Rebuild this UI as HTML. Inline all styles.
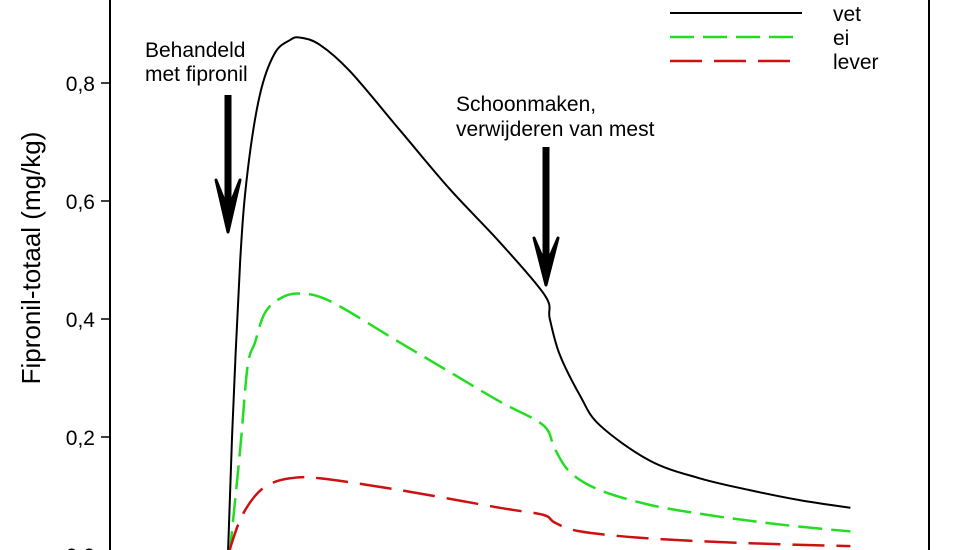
<!DOCTYPE html>
<html><head><meta charset="utf-8"><style>
html,body{margin:0;padding:0;background:#fff;overflow:hidden;}
svg{display:block;font-family:"Liberation Sans",Arial,sans-serif;}
</style></head><body>
<svg id="chart" width="978" height="550" viewBox="0 0 978 550">
<g id="axes"></g><g id="series"></g>
<g>
<text x="145" y="57" font-size="21">Behandeld</text>
<text x="145" y="81" font-size="21">met fipronil</text>
<line x1="228" y1="95" x2="228" y2="218" stroke="#000" stroke-width="7"/>
<path d="M216 180 L228 232 L240 180 L228 210 Z" fill="#000" stroke="#000" stroke-width="3" stroke-linejoin="round"/>
</g>
<g>
<text x="456" y="111" font-size="21">Schoonmaken,</text>
<text x="456" y="136" font-size="21">verwijderen van mest</text>
<line x1="546" y1="147" x2="546" y2="270" stroke="#000" stroke-width="7"/>
<path d="M534 238 L546 285 L558 238 L546 266 Z" fill="#000" stroke="#000" stroke-width="3" stroke-linejoin="round"/>
</g>
<g>
<line x1="670" y1="13" x2="802" y2="13" stroke="#000" stroke-width="2"/>
<text x="833" y="21" font-size="21">vet</text>
<line x1="670" y1="37" x2="802" y2="37" stroke="#22dd22" stroke-width="2.5" stroke-dasharray="24 9"/>
<text x="833" y="45" font-size="21">ei</text>
<line x1="670" y1="61" x2="802" y2="61" stroke="#cc1111" stroke-width="2.5" stroke-dasharray="32 12"/>
<text x="833" y="69" font-size="21">lever</text>
</g>
</svg>
<script>
const yTicks=[0,0.2,0.4,0.6,0.8];
const yTickLabels=["0,0","0,2","0,4","0,6","0,8"];
const vetX=[14.4,14.9,15.9,16.8,18.3,20.1,22.0,23.2,25.6,29.3,35.4,41.5,47.6,53.1,53.7,54.9,57.4,59.8,65.9,72.0,78.1,84.2,90.4];
const vetY=[0,0.2,0.5,0.65,0.78,0.85,0.873,0.877,0.865,0.82,0.72,0.62,0.53,0.44,0.40,0.34,0.27,0.22,0.16,0.13,0.11,0.093,0.08];
const eiX=[14.6,15.9,16.8,17.7,18.9,20.8,23.2,26.9,35.4,41.5,47.6,52.9,54.3,56.2,59.8,65.9,72.0,78.1,84.2,90.4];
const eiY=[0,0.18,0.32,0.36,0.41,0.435,0.443,0.43,0.36,0.31,0.26,0.22,0.18,0.14,0.11,0.085,0.07,0.058,0.048,0.04];
const leverX=[14.4,15.9,17.7,19.5,22.0,25.6,35.4,47.6,52.9,54.3,57.4,65.9,78.1,90.4];
const leverY=[0,0.06,0.1,0.12,0.13,0.13,0.11,0.08,0.068,0.055,0.04,0.028,0.02,0.015];
const X0=110,X1=929,Y0=555;
function xs(d){return X0+d*(X1-X0)/100;}
function ys(v){return Y0-v*590;}
const NS="http://www.w3.org/2000/svg";
const axes=document.getElementById('axes'),ser=document.getElementById('series');
function mk(tag,attrs,parent){const e=document.createElementNS(NS,tag);for(const k in attrs)e.setAttribute(k,attrs[k]);parent.appendChild(e);return e;}
const ya=mk('line',{x1:X0,y1:0,x2:X0,y2:550,stroke:'#000','stroke-width':2},axes);


const rb=mk('line',{x1:X1,y1:0,x2:X1,y2:550,stroke:'#000','stroke-width':2},axes);


yTicks.forEach((t,i)=>{
 const tk=mk('line',{x1:X0-9,y1:ys(t),x2:X0,y2:ys(t),stroke:'#000','stroke-width':1.5},axes);
 
 
 const tl=mk('text',{x:X0-15,y:ys(t)+8,'font-size':21,'text-anchor':'end'},axes);
 tl.textContent=yTickLabels[i];
 
 
});
const yt=mk('text',{x:0,y:0,'font-size':26,'text-anchor':'middle',transform:'translate(40,258) rotate(-90)'},axes);
yt.textContent='Fipronil-totaal (mg/kg)';


function path(X,Y){
 const p=X.map((x,i)=>[xs(x),ys(Y[i])]);
 let d='M'+p[0][0]+' '+p[0][1];
 for(let i=0;i<p.length-1;i++){
  const a=p[Math.max(0,i-1)],b=p[i],c=p[i+1],e=p[Math.min(p.length-1,i+2)];
  const c1=[b[0]+(c[0]-a[0])/6,b[1]+(c[1]-a[1])/6],c2=[c[0]-(e[0]-b[0])/6,c[1]-(e[1]-b[1])/6];
  d+=' C'+c1[0]+' '+c1[1]+' '+c2[0]+' '+c2[1]+' '+c[0]+' '+c[1];
 }
 return d;
}
const l1=mk('path',{d:path(vetX,vetY),fill:'none',stroke:'#000','stroke-width':2},ser);


const l2=mk('path',{d:path(eiX,eiY),fill:'none',stroke:'#22dd22','stroke-width':2.5,'stroke-dasharray':'24 9'},ser);


const l3=mk('path',{d:path(leverX,leverY),fill:'none',stroke:'#cc1111','stroke-width':2.5,'stroke-dasharray':'32 12'},ser);


</script>
</body></html>
